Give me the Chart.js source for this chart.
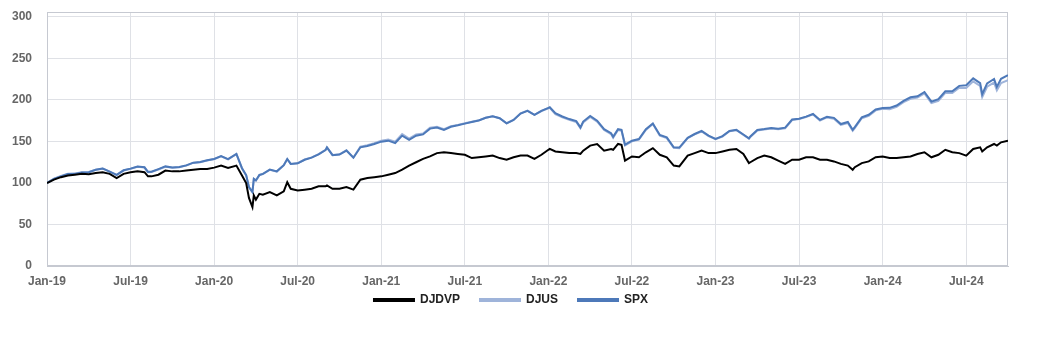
<!DOCTYPE html>
<html>
<head>
<meta charset="utf-8">
<title>DJDVP vs DJUS vs SPX</title>
<script src="https://cdn.jsdelivr.net/npm/chart.js@4.4.1/dist/chart.umd.min.js"></script>
<style>
  html, body { margin: 0; padding: 0; background: #fff; }
  #wrap { width: 1050px; height: 350px; position: relative; }
</style>
</head>
<body>
<div id="wrap"><canvas id="chart"></canvas></div>
<script>
// Rebased index levels (start = 100).
// x positions are months since Jan 2019.

const TICK_LABELS = ['Jan-19', 'Jul-19', 'Jan-20', 'Jul-20', 'Jan-21', 'Jul-21',
                     'Jan-22', 'Jul-22', 'Jan-23', 'Jul-23', 'Jan-24', 'Jul-24'];

const MONTHS = [
  // 2019
  0, 0.5, 1, 1.5, 2, 2.5, 3, 3.5, 4, 4.5, 5, 5.5, 6, 6.5, 7, 7.25, 7.5, 8, 8.5, 9, 9.5, 10, 10.5, 11, 11.5, 12,
  // 2020
  12.5, 13, 13.6, 14, 14.3, 14.5, 14.75, 14.85, 15, 15.25, 15.5, 16, 16.5, 17, 17.25, 17.5, 18, 18.5, 19, 19.5,
  20, 20.1, 20.5, 21, 21.5, 22, 22.5, 23, 23.5, 24,
  // 2021
  24.5, 25, 25.5, 26, 26.5, 27, 27.5, 28, 28.5, 29, 29.5, 30, 30.5, 31, 31.5, 32, 32.5, 33, 33.5, 34, 34.5, 35, 35.5, 36,
  // 2022
  36.1, 36.5, 37, 37.5, 38, 38.3, 38.5, 39, 39.5, 40, 40.5, 40.65, 41, 41.25, 41.5, 42, 42.5, 43, 43.5, 44,
  44.5, 45, 45.4, 46, 46.5, 47, 47.5, 48,
  // 2023
  48.5, 49, 49.5, 50, 50.4, 50.5, 51, 51.5, 52, 52.5, 53, 53.5, 54, 54.5, 55, 55.5, 56, 56.5, 57, 57.5, 57.85, 58,
  58.5, 59, 59.5, 60,
  // 2024
  60.5, 61, 61.5, 62, 62.5, 63, 63.5, 64, 64.5, 65, 65.5, 66, 66.5, 67, 67.15, 67.5, 68, 68.2, 68.5, 69
];

const DJDVP = [
  100, 104, 107, 109, 110, 111, 110.5, 112, 113, 111, 106, 111, 113, 114, 113, 108, 108, 110, 115, 114, 114, 115, 116, 117, 117, 118.5,
  121, 118, 121, 109, 100, 82, 71, 85, 80, 87, 86, 89, 85, 90, 101, 93, 91, 92, 93, 96,
  96, 97, 93, 93, 95, 92, 104, 106, 107, 108,
  110, 112, 116, 121, 125, 129, 132, 136, 137, 136, 135, 134, 130, 131, 132, 133, 130, 128, 131, 133, 133, 129, 134, 140,
  141, 138, 137, 136, 136, 135, 139, 145, 147, 139, 141, 140, 147, 146, 127, 132, 131, 137, 142, 134,
  131, 121, 120, 133, 136, 139, 136, 136,
  138, 140, 141, 135, 124, 125, 130, 133, 131, 127, 123, 128, 128, 131, 131, 128, 128, 126, 123, 121, 116, 119,
  124, 126, 131, 132,
  130, 130, 131, 132, 135, 137, 131, 134, 140, 137, 136, 133, 141, 143, 138, 143, 147, 145, 149, 151
];

const DJUS = [
  100, 105.2, 108.4, 111, 111.5, 112.8, 113.2, 116, 117.5, 113.6, 109.6, 115, 117.2, 119.6, 118.6, 113, 113.2, 116.2, 119.6, 118.3, 119, 121, 124.2, 125, 127, 128.8,
  132, 128.5, 134.8, 117.6, 109.3, 95, 89, 104.6, 102.8, 109.5, 110.8, 116, 113.8, 121.3, 128.8, 123, 123.8, 128.3, 130.8, 134.8,
  140, 143, 133.8, 134.5, 139.5, 130.8, 143.8, 145.5, 148, 151,
  152.5, 149.8, 159, 153.5, 158.5, 159.5, 166.5, 167.8, 164.8, 168.5, 170, 172, 173.8, 175.5, 178.5, 180.5, 178, 172, 176, 183.8, 187.2, 182, 186.7, 190,
  190.5, 183, 179, 176, 173.5, 166, 173, 179.5, 174, 163.8, 159, 154.5, 163.8, 163, 145.3, 150.2, 152.3, 164, 171, 157,
  154, 142.3, 142, 154, 158.5, 162, 156.5, 152.8,
  156, 162.3, 163.5, 158, 153.3, 155.3, 163.2, 164.3, 165.5, 164.8, 165.8, 175.8, 177, 179.5, 182.6, 175.3, 179, 177.5, 170, 172.3, 163, 166,
  178, 181, 187.5, 189.5,
  189, 191.8, 197.5, 201.5, 202.8, 208, 196.3, 199, 208.7, 208.5, 214.8, 214.5, 222.5, 216.8, 203.5, 216, 221, 211.5, 220.5, 224
];

const SPX = [
  100, 105, 108, 110.7, 111, 112.6, 113, 115.9, 117.5, 113.7, 109.8, 115.3, 117.3, 119.8, 118.9, 113.4, 113.6, 116.7, 120, 118.7, 119.3, 121.2, 124.5, 125.3, 127.3, 128.9,
  132.3, 128.7, 135, 117.8, 109.5, 95.2, 89.2, 104.9, 103.1, 109.7, 111, 116.2, 114, 121.4, 128.9, 123, 123.7, 128, 130.5, 134.5,
  139.6, 142.8, 133.5, 134.2, 139, 130.4, 143, 144.5, 147, 149.8,
  151, 148.2, 157, 152, 157, 158.5, 165.5, 166.8, 164, 167.7, 169.5, 171.5, 173.5, 175.3, 178.5, 180.4, 178, 171.8, 176, 183.7, 187, 182.2, 187, 190.5,
  191.3, 184, 180.1, 177, 174.5, 167, 174, 180.7, 175, 164.8, 160, 155.6, 164.8, 164, 146.2, 151, 153, 164.7, 171.7, 157.8,
  155, 143, 142.7, 154.5, 159, 162.7, 157, 153.2,
  156.5, 162.6, 164, 158.4, 153.8, 156, 163.9, 165, 166.3, 165.5, 166.7, 176.5, 177.5, 180, 183.1, 176, 179.8, 178.5, 171, 173.5, 164.2, 167.3,
  179, 182.2, 188.5, 190.3,
  190.5, 193.3, 199, 203.3, 204.5, 209.6, 198, 200.9, 210.5, 210.5, 217, 217.8, 226, 220.3, 206.9, 220, 225.3, 215.7, 225.5, 229.9
];

const FONT = 'Arial, "Liberation Sans", sans-serif';
const GRID = '#dfe1e6';
const FRAME = '#c6c9d1';

const toPoints = arr => MONTHS.map((m, i) => ({ x: m, y: arr[i] }));

// top/right frame of the plot area, and legend pulled up under the tick labels
const frame = {
  id: 'frame',
  afterLayout(chart) {
    const lg = chart.legend;
    lg.top -= 16;
    lg.bottom -= 16;
    lg.left += 7;
    lg.right += 7;
  },
  beforeDatasetsDraw(chart) {
    const { ctx, chartArea: a } = chart;
    ctx.save();
    ctx.strokeStyle = FRAME;
    ctx.lineWidth = 1;
    ctx.strokeRect(Math.round(a.left) + 0.5, Math.round(a.top) + 0.5,
                   Math.round(a.right - a.left) - 1, Math.round(a.bottom - a.top) - 1);
    ctx.restore();
  }
};

new Chart(document.getElementById('chart').getContext('2d'), {
  type: 'line',
  data: {
    datasets: [
      { label: 'DJDVP', data: toPoints(DJDVP), borderColor: '#000000', backgroundColor: '#000000', borderWidth: 2, order: 0 },
      { label: 'DJUS',  data: toPoints(DJUS),  borderColor: '#9fb4da', backgroundColor: '#9fb4da', borderWidth: 2, order: 2 },
      { label: 'SPX',   data: toPoints(SPX),   borderColor: '#4d79b9', backgroundColor: '#4d79b9', borderWidth: 2, order: 1 },
    ],
  },
  options: {
    responsive: true, maintainAspectRatio: false, animation: false,
    elements: { point: { radius: 0 }, line: { tension: 0, fill: false } },
    layout: { padding: { top: 12, right: 42, bottom: 18, left: 0 } },
    plugins: {
      tooltip: { enabled: false },
      legend: {
        position: 'bottom',
        labels: {
          boxWidth: 40, boxHeight: 2, padding: 20, color: '#222',
          font: { family: FONT, size: 12, weight: 'bold' },
          sort: (a, b) => a.datasetIndex - b.datasetIndex,
        },
      },
    },
    scales: {
      x: {
        type: 'linear', min: 0, max: 69,
        grid: { color: GRID, drawTicks: false },
        border: { color: FRAME },
        ticks: {
          stepSize: 6, includeBounds: false, autoSkip: false, maxRotation: 0, padding: 8,
          color: '#666', font: { family: FONT, size: 12, weight: 'bold' },
          callback: v => TICK_LABELS[v / 6] ?? '',
        },
        afterFit: s => { s.height = 24; },
      },
      y: {
        min: 0, max: 306,
        grid: { color: GRID, drawTicks: false },
        border: { color: FRAME },
        ticks: {
          stepSize: 50, includeBounds: false, padding: 15,
          color: '#666', font: { family: FONT, size: 12, weight: 'bold' },
        },
        afterFit: s => { s.width = 47; s.paddingTop = 0; s.paddingBottom = 0; },
      },
    },
  },
  plugins: [frame],
});
</script>
</body>
</html>
